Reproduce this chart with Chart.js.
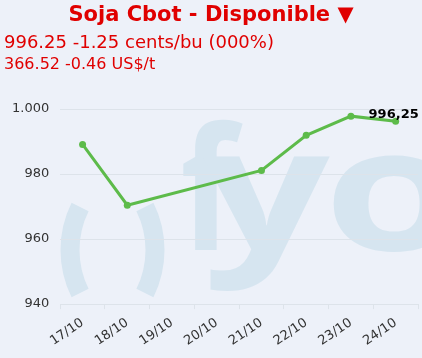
<!DOCTYPE html>
<html>
<head>
<meta charset="utf-8">
<script src="https://cdn.jsdelivr.net/npm/chart.js@4"></script>
<style>
  html, body { margin: 0; padding: 0; background: #edf1f9; }
  #wrap { position: relative; width: 422px; height: 358px; overflow: hidden; font-family: 'DejaVu Sans', Verdana, sans-serif; }
  #chart { position: absolute; left: 0; top: 0; }
  .hdr { position: absolute; color: #e00000; white-space: nowrap; line-height: 1; }
  #t1 { left: 0; width: 422px; text-align: center; top: 4px; font-size: 21px; font-weight: bold; }
  #t2 { left: 4px; top: 33px; font-size: 18px; }
  #t3 { left: 4px; top: 56px; font-size: 16px; }
</style>
</head>
<body>
<div id="wrap">
  <canvas id="chart" width="422" height="358"></canvas>
  <div class="hdr" id="t1">Soja Cbot - Disponible ▼</div>
  <div class="hdr" id="t2">996.25 -1.25 cents/bu (000%)</div>
  <div class="hdr" id="t3">366.52 -0.46 US$/t</div>
</div>
<script>
var days = ['17/10', '18/10', '19/10', '20/10', '21/10', '22/10', '23/10', '24/10'];
var prices = [989.1, 970.4, null, null, 981.1, 991.9, 997.8, 996.25];
var yMin = 940;
var yMax = 1000;
var yStep = 20;

// background + fyo watermark
var watermark = {
  id: 'watermark',
  beforeDraw: function (chart) {
    var ctx = chart.ctx;
    ctx.save();
    ctx.fillStyle = '#edf1f9';
    ctx.fillRect(0, 0, chart.width, chart.height);
    ctx.strokeStyle = '#d6e5f0';
    ctx.fillStyle = '#d6e5f0';
    ctx.lineWidth = 19;
    ctx.beginPath();
    ctx.arc(167, 250, 97, Math.PI - 0.46, Math.PI + 0.46);
    ctx.stroke();
    ctx.beginPath();
    ctx.arc(58, 250, 97, -0.46, 0.46);
    ctx.stroke();
    ctx.font = 'bold 170px "Open Sans"';
    var letters = [['f', 183, 60], ['y', 203, 127], ['o', 333, 122]];
    letters.forEach(function (l) {
      var m = ctx.measureText(l[0]);
      var w = m.actualBoundingBoxLeft + m.actualBoundingBoxRight;
      var sx = l[2] / w;
      ctx.save();
      ctx.translate(l[1], 250);
      ctx.scale(sx, 1);
      ctx.fillText(l[0], m.actualBoundingBoxLeft, 0);
      ctx.restore();
    });
    ctx.restore();
  }
};

// value label over the last point
var lastLabel = {
  id: 'lastLabel',
  afterDatasetsDraw: function (chart) {
    var meta = chart.getDatasetMeta(0);
    var i = prices.length - 1;
    var pt = meta.data[i];
    var ctx = chart.ctx;
    ctx.save();
    ctx.font = 'bold 13px "DejaVu Sans"';
    ctx.fillStyle = '#000';
    ctx.textAlign = 'center';
    ctx.textBaseline = 'alphabetic';
    ctx.fillText(prices[i].toLocaleString('de-DE', { minimumFractionDigits: 2 }), pt.x - 2, pt.y - 3);
    ctx.restore();
  }
};

new Chart(document.getElementById('chart'), {
  type: 'line',
  data: {
    labels: days,
    datasets: [{
      data: prices,
      borderColor: '#5dbb4a',
      backgroundColor: '#5dbb4a',
      borderWidth: 3,
      pointRadius: 3.5,
      pointBorderWidth: 0,
      pointHoverRadius: 3.5,
      spanGaps: true,
      tension: 0,
      clip: false
    }]
  },
  options: {
    responsive: false,
    animation: false,
    locale: 'de-DE',
    layout: { padding: { top: 109, left: 1, right: 4, bottom: 3 } },
    plugins: {
      legend: { display: false },
      tooltip: { enabled: false }
    },
    scales: {
      x: {
        offset: true,
        grid: { offset: true, drawOnChartArea: false, drawTicks: true, tickLength: 5, color: '#dde3ea' },
        border: { display: false },
        ticks: {
          minRotation: 34,
          maxRotation: 34,
          padding: 6,
          color: '#333',
          font: { family: 'DejaVu Sans', size: 13 }
        }
      },
      y: {
        min: yMin,
        max: yMax,
        grid: { color: '#dde3ea', drawTicks: false },
        border: { display: false },
        ticks: {
          stepSize: yStep,
          padding: 11,
          color: '#333',
          font: { family: 'DejaVu Sans', size: 13 }
        }
      }
    }
  },
  plugins: [watermark, lastLabel]
});
</script>
</body>
</html>
